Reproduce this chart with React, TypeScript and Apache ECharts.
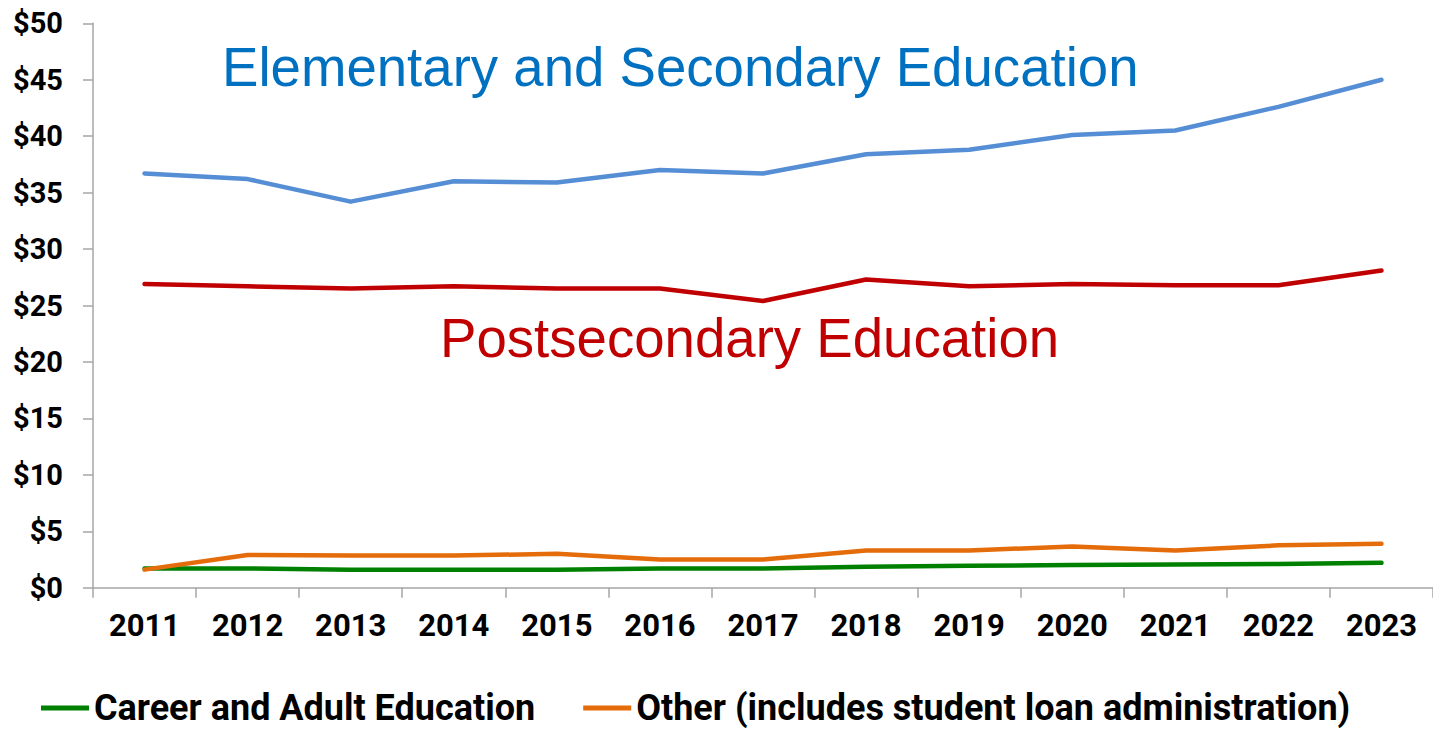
import React, { useEffect, useRef } from "react";
import * as echarts from "echarts";

const years = ["2011", "2012", "2013", "2014", "2015", "2016", "2017", "2018", "2019", "2020", "2021", "2022", "2023"];
const elementary = [36.7, 36.2, 34.2, 36.0, 35.9, 37.0, 36.7, 38.4, 38.8, 40.1, 40.5, 42.6, 45.0];
const postsecondary = [26.9, 26.7, 26.5, 26.7, 26.5, 26.5, 25.4, 27.3, 26.7, 26.9, 26.8, 26.8, 28.1];
const career = [1.7, 1.7, 1.6, 1.6, 1.6, 1.7, 1.7, 1.85, 1.95, 2.0, 2.05, 2.1, 2.2];
const other = [1.6, 2.9, 2.85, 2.85, 3.0, 2.5, 2.5, 3.3, 3.3, 3.65, 3.3, 3.75, 3.9];

const seriesNames = {
  elementary: "Elementary and Secondary Education",
  postsecondary: "Postsecondary Education",
  career: "Career and Adult Education",
  other: "Other (includes student loan administration)",
};

export default function App() {
  const ref = useRef<HTMLDivElement>(null);
  useEffect(() => {
    document.body.style.margin = "0";
    const chart = echarts.init(ref.current!, null, { renderer: "svg" });
    const line = (name: string, data: number[], color: string) => ({
      name,
      type: "line",
      data,
      showSymbol: false,
      symbol: "none",
      lineStyle: { color, width: 4.5, cap: "round", join: "round" },
      itemStyle: { color },
    });
    chart.setOption({
      animation: false,
      backgroundColor: "#ffffff",
      grid: { left: 93, right: 0, top: 23.3, bottom: 729 - 587.7, containLabel: false },
      xAxis: {
        type: "category",
        data: years,
        boundaryGap: true,
        axisLine: { show: true, lineStyle: { color: "#A6A6A6", width: 1.5 } },
        axisTick: { show: true, length: 10, alignWithLabel: false, lineStyle: { color: "#A6A6A6", width: 1.5 } },
        axisLabel: {
          color: "#000",
          fontFamily: "Roboto",
          fontWeight: "bold",
          fontSize: 31,
          margin: 22,
          interval: 0,
        },
        splitLine: { show: false },
      },
      yAxis: {
        type: "value",
        min: 0,
        max: 50,
        interval: 5,
        axisLine: { show: true, lineStyle: { color: "#A6A6A6", width: 1.5 } },
        axisTick: { show: true, length: 10, lineStyle: { color: "#A6A6A6", width: 1.5 } },
        axisLabel: {
          color: "#000",
          fontFamily: "Roboto",
          fontWeight: "bold",
          fontSize: 29,
          margin: 30,
          formatter: (v: number) => "$" + v,
        },
        splitLine: { show: false },
      },
      legend: {
        data: [seriesNames.career, seriesNames.other],
        left: 36,
        top: 685,
        icon: "rect",
        itemWidth: 48,
        itemHeight: 5,
        itemGap: 48,
        textStyle: {
          color: "#000",
          fontFamily: "Roboto",
          fontWeight: "bold",
          fontSize: 36,
          lineHeight: 36,
        },
      },
      graphic: [
        {
          type: "text",
          left: 222,
          top: 40,
          style: {
            text: seriesNames.elementary,
            fill: "#0070C0",
            font: '54.6px "Liberation Sans", Arial, sans-serif',
          },
        },
        {
          type: "text",
          left: 440,
          top: 311,
          style: {
            text: seriesNames.postsecondary,
            fill: "#C00000",
            font: '54.6px "Liberation Sans", Arial, sans-serif',
          },
        },
      ],
      series: [
        line(seriesNames.elementary, elementary, "#558ED5"),
        line(seriesNames.postsecondary, postsecondary, "#C00000"),
        line(seriesNames.career, career, "#008000"),
        line(seriesNames.other, other, "#E46C0A"),
      ],
    });
    return () => chart.dispose();
  }, []);
  return <div ref={ref} style={{ width: 1433, height: 729 }} />;
}
